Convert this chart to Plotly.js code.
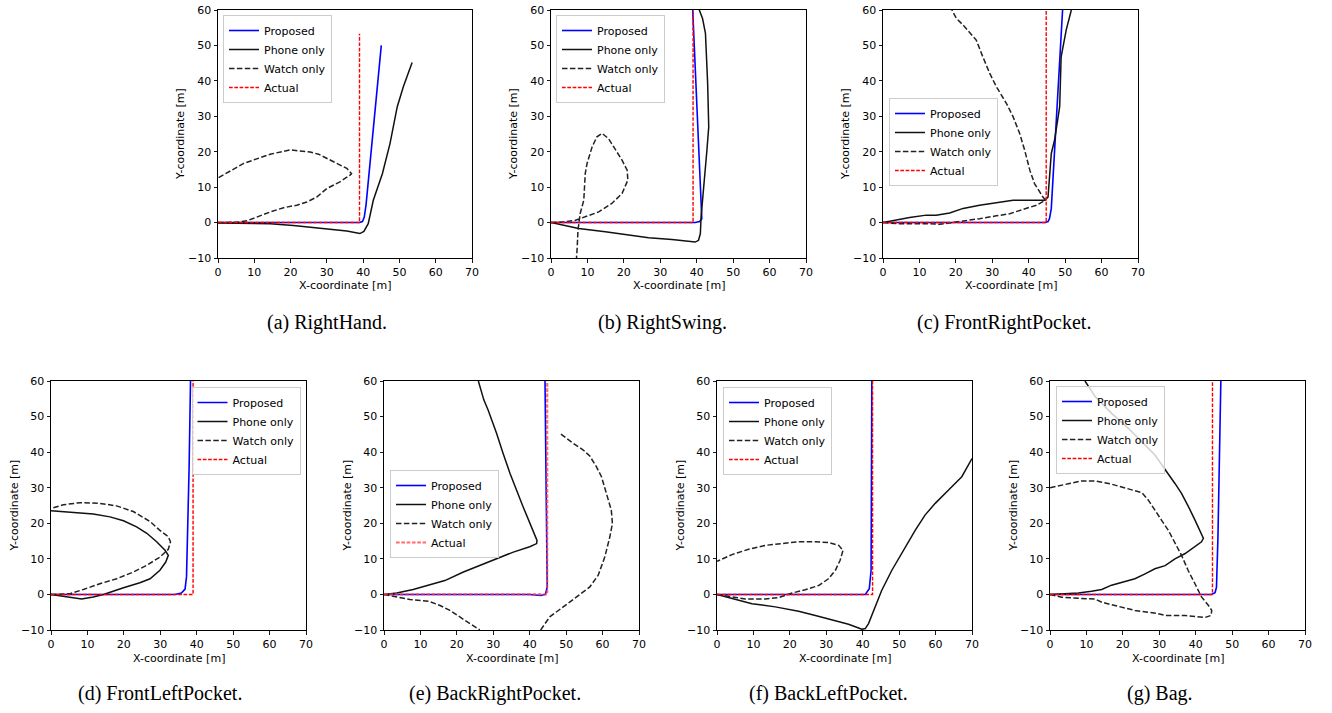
<!DOCTYPE html>
<html><head><meta charset="utf-8">
<script src="https://cdn.plot.ly/plotly-3.0.1.min.js"></script>
<style>html,body{margin:0;padding:0;background:#fff}#chart{width:1332px;height:713px}</style>
</head><body><div id="chart"></div>
<script>
// ---------- DATA ----------
const seriesNames = ["Proposed", "Phone only", "Watch only", "Actual"];
const captions = ["(a) RightHand.", "(b) RightSwing.", "(c) FrontRightPocket.", "(d) FrontLeftPocket.", "(e) BackRightPocket.", "(f) BackLeftPocket.", "(g) Bag."];
const xTicks = [0, 10, 20, 30, 40, 50, 60, 70];
const yTicks = [-10, 0, 10, 20, 30, 40, 50, 60];
const xTitle = "X-coordinate [m]";
const yTitle = "Y-coordinate [m]";

// (a) RightHand
const a_prop_x = [0, 39, 39.8, 40.3, 40.8, 45];
const a_prop_y = [0, 0, 0.3, 1.5, 5, 50];
const a_phone_x = [0, 14.4, 20.8, 30, 35.5, 39.1, 40.2, 41.4, 42.8, 45.3, 47.4, 49.4, 51.1, 53.5];
const a_phone_y = [-0.1, -0.3, -0.8, -1.7, -2.4, -3.1, -2.5, -0.3, 6.3, 13.8, 22.3, 32.7, 38.4, 45.2];
const a_watch_x = [0, 5.2, 8, 10.7, 14.4, 18.1, 21.7, 24.5, 27.2, 30, 33.6, 36.4, 36.8, 35.5, 32.7, 27.7, 25.4, 19.9, 14.4, 7.1, 0];
const a_watch_y = [0, 0.1, 0.5, 1.6, 3.0, 4.2, 4.9, 5.8, 7.2, 9.6, 11.5, 13.4, 13.8, 15.3, 16.7, 19.3, 19.9, 20.5, 19.3, 16.7, 12.6];
const a_actual_x = [0, 39, 39];
const a_actual_y = [0, 0, 53.3];

// (b) RightSwing
const b_prop_x = [0, 39.6, 40.8, 41.4, 38.9];
const b_prop_y = [0, 0, 0.3, 1.1, 60];
const b_phone_x = [0, 7.6, 14.9, 21.3, 26.8, 33.2, 39.6, 40.5, 41, 41.2, 41.9, 42.8, 43.3, 43, 42.4, 41.6, 40.7];
const b_phone_y = [0, -1.7, -2.6, -3.6, -4.3, -4.8, -5.5, -5, -3.1, 1.6, 11, 20.4, 27, 39.3, 53.4, 57.6, 60];
const b_watch_x = [0, 3.5, 6.7, 13.1, 16.7, 19.5, 21.1, 20.9, 19.5, 17.7, 15.8, 14, 12.6, 11.3, 9.9, 9.4, 9, 8, 7.4, 7.2, 7];
const b_watch_y = [0, 0.2, 0.65, 3, 5.4, 8.2, 12, 14.8, 17.6, 20.4, 23.7, 25.2, 24.2, 21.4, 16.7, 13.8, 6.3, 2.5, -2.2, -6.9, -10];
const b_actual_x = [0, 39, 39];
const b_actual_y = [0, 0, 60];

// (c) FrontRightPocket
const c_prop_x = [0, 44.5, 45.3, 45.7, 46.2, 49.3];
const c_prop_y = [0, 0, 0.3, 1.1, 4, 60];
const c_phone_x = [0, 3.7, 7.3, 11.9, 14.6, 18.3, 22, 26.5, 31.1, 35.7, 40.3, 44.4, 45.3, 46.2, 47.1, 48.5, 48.9, 50.3, 51.7];
const c_phone_y = [0, 0.8, 1.4, 2.1, 2.1, 2.7, 4, 4.9, 5.6, 6.3, 6.3, 6.3, 7.2, 19.5, 23.3, 32.7, 46.8, 54.4, 60];
const c_watch_x = [0, 3.7, 12.8, 15.6, 18.3, 22, 26.5, 31.1, 34.8, 38.4, 42.1, 44.6, 43.9, 41.6, 40.3, 38.9, 37.5, 35.7, 33.9, 31.1, 29.3, 27.4, 25.6, 22.4, 20.1, 18.9];
const c_watch_y = [0, -0.3, -0.3, -0.5, -0.1, 0.4, 1.1, 1.9, 2.5, 3.7, 4.9, 6.3, 7.2, 11, 14.8, 20.4, 25.2, 29.9, 33.6, 38.4, 42.1, 46.8, 51.5, 55.3, 57.7, 60];
const c_actual_x = [0, 44.8, 44.8];
const c_actual_y = [0, 0, 60];

// (d) FrontLeftPocket
const d_prop_x = [0, 34, 35.8, 36.8, 37.2, 37.5, 37.9, 38.3];
const d_prop_y = [0, 0, 0.4, 1.5, 5, 16, 35, 60];
const d_phone_x = [0, 4.3, 8.4, 11.6, 14.4, 19.9, 24.4, 27.2, 29.9, 31.5, 32.2, 31.3, 29, 26.3, 23.5, 19.9, 16.2, 11.6, 7, 0];
const d_phone_y = [0, -0.75, -1.3, -0.75, 0, 1.9, 3.3, 4.4, 6.8, 9.1, 11, 12.4, 14.8, 17.2, 19, 20.7, 21.8, 22.6, 23, 23.5];
const d_watch_x = [0, 5.2, 8.9, 13.4, 18, 22.6, 26.3, 29.9, 32.2, 32.8, 32.2, 29.9, 27.2, 22.6, 18, 13.4, 8, 3.4, 0];
const d_watch_y = [0, 0.2, 1.4, 3.0, 4.4, 6.3, 8.2, 10.5, 12.7, 14.8, 16.2, 18, 20.5, 23.3, 24.9, 25.6, 25.8, 25.2, 24.2];
const d_actual_x = [0, 39, 39];
const d_actual_y = [0, 0, 60];

// (e) BackRightPocket
const e_prop_x = [0, 40, 43, 44.3, 44.8, 44.6, 44.2];
const e_prop_y = [0, 0, -0.3, 0, 2, 20, 60];
const e_phone_x = [0, 3.5, 8, 12.6, 16.7, 21.8, 26.3, 30.9, 35.5, 40, 41.9, 42, 40, 38.2, 36.4, 34.6, 32.7, 30.9, 28.6, 27.4, 25.9];
const e_phone_y = [0, 0.4, 1.4, 2.7, 3.9, 6.3, 8.2, 10.1, 11.9, 13.4, 14.3, 15.2, 19.9, 24.6, 29.3, 34, 39.6, 45.3, 51.8, 54.7, 60];
const e_watch_x = [0, 3.5, 7.1, 12.2, 15.4, 18.1, 20.8, 23.6, 26.3, null, 43, 45.5, 49.2, 52.8, 56.5, 58.8, 60.6, 62, 62.7, 62.4, 61.1, 59.7, 58.3, 56.5, 54.7, 51.9, 48.3];
const e_watch_y = [0, -0.7, -1.4, -1.9, -3.1, -4.5, -6.4, -8.2, -10, null, -10, -6.3, -3.5, -0.7, 2.1, 5.4, 10.5, 16.2, 19.9, 23.7, 28.4, 33.1, 35.9, 38.9, 40.6, 42.5, 45.3];
const e_actual_x = [0, 44.8, 44.8];
const e_actual_y = [0, 0, 60];

// (f) BackLeftPocket
const f_prop_x = [0, 40.7, 41.8, 42.3, 42.5];
const f_prop_y = [0, 0, 1.6, 6.8, 60];
const f_phone_x = [0, 4.1, 9.6, 16, 22.4, 27, 31.5, 36.1, 39.8, 40.7, 41.6, 43, 45.2, 48, 51.2, 54.4, 57.1, 59.9, 63.5, 67.2, 70];
const f_phone_y = [0, -1.2, -2.6, -3.5, -4.7, -5.9, -7.1, -8.4, -9.8, -9.6, -8.2, -4.5, 1.1, 6.8, 12.4, 18, 22.3, 25.6, 29.3, 33.1, 38.2];
const f_watch_x = [0, 4.1, 7.8, 13.3, 16.9, 20.6, 24.2, 27.9, 30.6, 32.5, 33.8, 34.6, 33.4, 30.6, 27, 22.4, 17.8, 13.3, 8.7, 4.1, 0];
const f_watch_y = [0, -0.75, -1.3, -1.3, -0.9, 0.4, 1.3, 2.5, 4.4, 6.8, 9.6, 12.4, 13.8, 14.6, 14.8, 14.8, 14.3, 13.8, 12.7, 11.2, 9.3];
const f_actual_x = [0, 42.7, 42.7];
const f_actual_y = [0, 0, 60];

// (g) Bag
const g_prop_x = [0, 44.3, 45.3, 45.7, 46.1, 46.9];
const g_prop_y = [0, 0, 0.5, 2, 16, 60];
const g_phone_x = [0, 7.8, 11.4, 14.2, 16.9, 19.7, 23.3, 26.1, 28.8, 31.6, 34.3, 37.1, 39.8, 41.6, 42.1, 41.2, 39.8, 38, 36.1, 34.3, 31.6, 28.8, 25.2, 21.5, 16.9, 12.4, 9.6];
const g_phone_y = [0, 0.4, 0.9, 1.4, 2.6, 3.3, 4.4, 5.8, 7.2, 8.1, 10, 11.5, 13.4, 14.8, 15.8, 18, 20.9, 24.7, 28.4, 31.2, 35, 39.2, 42.9, 46.7, 50.9, 55.6, 60];
const g_watch_x = [0, 3.2, 7.8, 12.4, 14.2, 17.8, 20.6, 23.3, 27, 29.7, 31.6, 34.3, 37.1, 39.8, 42.5, 44.2, 44.4, 43.5, 41.6, 39.8, 37.9, 36.1, 34.3, 32.5, 30.6, 28.8, 27, 25.2, 21.5, 16.9, 12.4, 8.7, 5, 0];
const g_watch_y = [0, -0.8, -1.1, -1.3, -2.2, -3.1, -3.7, -4.5, -5, -5.4, -5.9, -5.9, -5.9, -6.2, -6.5, -5.9, -4.5, -3.1, -0.7, 3.0, 6.8, 11, 14.3, 18, 20.9, 23.7, 26.5, 28.6, 29.6, 31, 31.9, 31.9, 31.1, 30];
const g_actual_x = [0, 44.6, 44.6];
const g_actual_y = [0, 0, 60];

// ---------- LAYOUT / STYLE ----------
const W = 1332, H = 713;
const FONT = "DejaVu Sans";
const panels = [
  {s: [[a_prop_x, a_prop_y], [a_phone_x, a_phone_y], [a_watch_x, a_watch_y], [a_actual_x, a_actual_y]], box: [218, 472, 10, 258], leg: [223, 15, "left"], cap: [327, 322]},
  {s: [[b_prop_x, b_prop_y], [b_phone_x, b_phone_y], [b_watch_x, b_watch_y], [b_actual_x, b_actual_y]], box: [551, 806, 10, 258], leg: [556, 15, "left"], cap: [662, 322]},
  {s: [[c_prop_x, c_prop_y], [c_phone_x, c_phone_y], [c_watch_x, c_watch_y], [c_actual_x, c_actual_y]], box: [883, 1138, 10, 258], leg: [889, 98, "left"], cap: [1004, 322]},
  {s: [[d_prop_x, d_prop_y], [d_phone_x, d_phone_y], [d_watch_x, d_watch_y], [d_actual_x, d_actual_y]], box: [51, 306, 381, 630], leg: [300.5, 387, "right"], cap: [160, 693]},
  {s: [[e_prop_x, e_prop_y], [e_phone_x, e_phone_y], [e_watch_x, e_watch_y], [e_actual_x, e_actual_y]], box: [384, 639, 381, 630], leg: [390, 470, "left"], cap: [495, 693], softActual: true},
  {s: [[f_prop_x, f_prop_y], [f_phone_x, f_phone_y], [f_watch_x, f_watch_y], [f_actual_x, f_actual_y]], box: [717, 972, 381, 630], leg: [723, 387, "left"], cap: [828, 693]},
  {s: [[g_prop_x, g_prop_y], [g_phone_x, g_phone_y], [g_watch_x, g_watch_y], [g_actual_x, g_actual_y]], box: [1050, 1305, 381, 630], leg: [1056, 386, "left"], cap: [1160, 693]}
];

const lineStyles = [
  {color: "#0000ff", width: 1.6, dash: "solid"},
  {color: "#111111", width: 1.5, dash: "solid"},
  {color: "#222222", width: 1.5, dash: "5.5px,2.4px"},
  {color: "#ff0000", width: 1.4, dash: "3.7px,1.6px"}
];
const softActualStyle = {color: "rgba(255,60,60,0.75)", width: 2.2, dash: "3.7px,1.6px"};

const traces = [];
const layout = {
  width: W, height: H,
  margin: {l: 0, r: 0, t: 0, b: 0},
  paper_bgcolor: "#ffffff", plot_bgcolor: "#ffffff",
  showlegend: true,
  annotations: [],
  font: {family: FONT, size: 11, color: "#000"}
};

const px2x = p => p / W;
const px2y = p => 1 - p / H;

panels.forEach((p, i) => {
  const sfx = i === 0 ? "" : String(i + 1);
  const [l, r, t, b] = p.box;
  p.s.forEach((xy, k) => {
    const st = (k === 3 && p.softActual) ? softActualStyle : lineStyles[k];
    traces.push({
      type: "scatter", mode: "lines",
      x: xy[0], y: xy[1],
      name: seriesNames[k],
      xaxis: "x" + sfx, yaxis: "y" + sfx,
      legend: "legend" + sfx,
      connectgaps: false,
      line: {color: st.color, width: st.width, dash: st.dash, shape: "linear"},
      hoverinfo: "skip"
    });
  });
  const common = {
    ticks: "outside", ticklen: 3.5, tickwidth: 0.9, tickcolor: "#000",
    showline: true, linecolor: "#000", linewidth: 1, mirror: true,
    showgrid: false, zeroline: false, fixedrange: true,
    tickfont: {family: FONT, size: 11, color: "#000"}
  };
  layout["xaxis" + sfx] = Object.assign({}, common, {
    domain: [px2x(l), px2x(r)], range: [0, 70], tickvals: xTicks, ticktext: xTicks.map(String),
    anchor: "y" + sfx
  });
  layout["yaxis" + sfx] = Object.assign({}, common, {
    domain: [px2y(b), px2y(t)], range: [-10, 60], tickvals: yTicks,
    anchor: "x" + sfx
  });
  layout["legend" + sfx] = {
    x: px2x(p.leg[0]), y: px2y(p.leg[1]), xanchor: p.leg[2], yanchor: "top",
    xref: "paper", yref: "paper",
    bgcolor: "rgba(255,255,255,0.8)", bordercolor: "#cccccc", borderwidth: 1,
    font: {family: FONT, size: 11, color: "#000"},
    traceorder: "normal"
  };
  // axis titles
  layout.annotations.push({
    text: xTitle, xref: "paper", yref: "paper",
    x: px2x((l + r) / 2), y: px2y(b + 28), xanchor: "center", yanchor: "middle",
    showarrow: false, font: {family: FONT, size: 11, color: "#000"}
  });
  layout.annotations.push({
    text: yTitle, xref: "paper", yref: "paper", textangle: -90,
    x: px2x(l - 37), y: px2y((t + b) / 2), xanchor: "center", yanchor: "middle",
    showarrow: false, font: {family: FONT, size: 11, color: "#000"}
  });
  // caption
  layout.annotations.push({
    text: captions[i], xref: "paper", yref: "paper",
    x: px2x(p.cap[0]), y: px2y(p.cap[1]), xanchor: "center", yanchor: "middle",
    showarrow: false, font: {family: "Liberation Serif", size: 20, color: "#000"}
  });
});

Plotly.newPlot("chart", traces, layout, {displayModeBar: false, staticPlot: true});
</script>
</body></html>
